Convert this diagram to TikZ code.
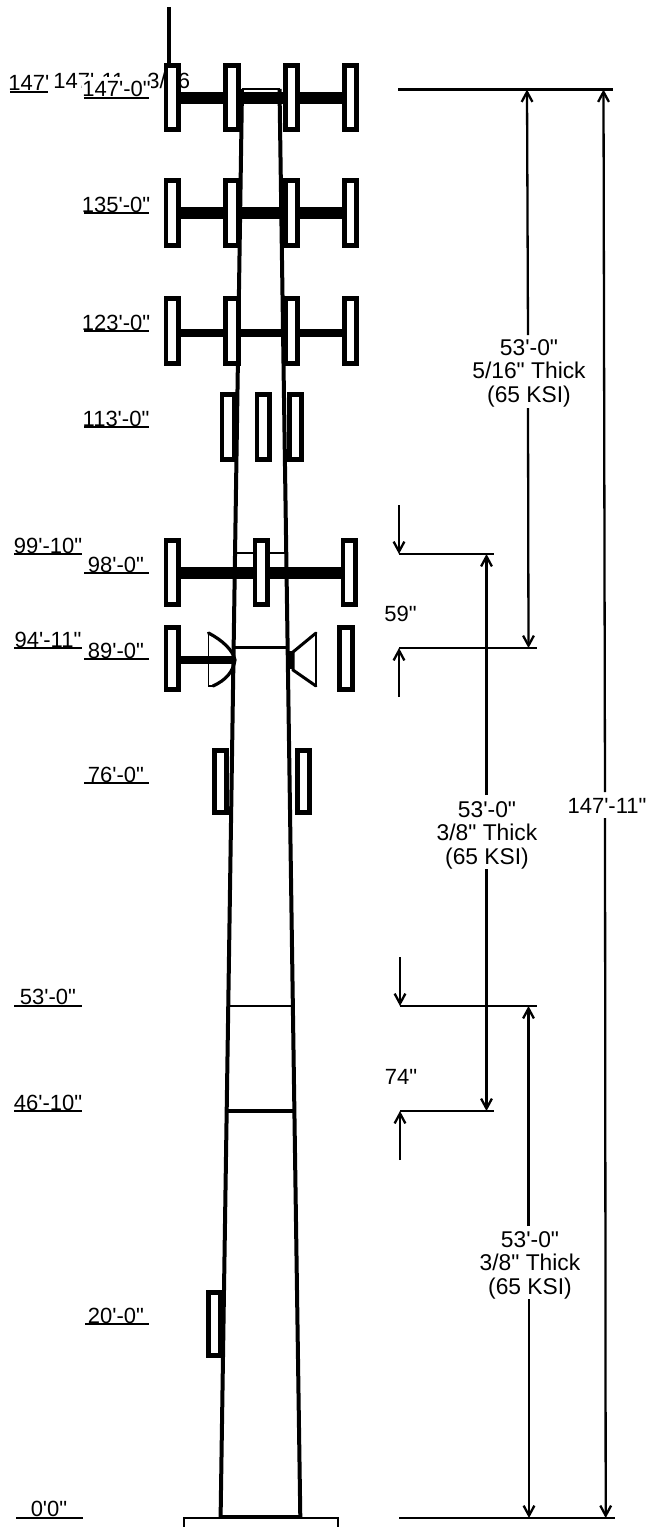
\documentclass[tikz,border=0pt]{standalone}
\usepackage{fontspec}
\newfontfamily\arialfont{Liberation Sans}
\usetikzlibrary{arrows.meta}
\tikzset{
  ant/.style={draw=black,fill=white,line width=2.3pt},
  towerline/.style={line width=2pt,line cap=butt},
  bar/.style={draw=black},
  dimline/.style={line width=1.15pt},
  tipped/.style={dimline,-{Straight Barb[length=5pt,width=5.4pt]}},
  ext/.style={line width=1.3pt},
  lbl/.style={font=\arialfont\fontsize{11}{12}\selectfont,inner sep=0pt,anchor=base},
  blk/.style={font=\arialfont\fontsize{11.4}{11.75}\selectfont,inner sep=0pt,align=center},
  uline/.style={line width=1.1pt}
}
\newcommand{\ant}[4]{\draw[ant] ([shift={(2.3,2.3)}]#1,#2) rectangle ([shift={(-2.3,-2.3)}]#3,#4);}
\newcommand{\lab}[7]{\node[lbl] (#1) at (#2,#3) {#4}; \draw[uline] (#5,#7) -- (#6,#7);}
\begin{document}
\begin{tikzpicture}[x=0.5pt,y=-0.5pt]
\useasboundingbox (0,0) rectangle (646,1527);
% tower
\coordinate (tl) at (242,89); \coordinate (tr) at (279.5,89);
\coordinate (bl) at (220.6,1517); \coordinate (br) at (300.3,1517);
\draw[towerline] (tl) -- (bl);
\draw[towerline] (tr) -- (br);
\draw[line width=0.9pt] (tl) -- (tr);
\draw[line width=0.8pt] (236,553) -- (286,553);
\draw[line width=1.2pt] (234,647.5) -- (288,647.5);
\draw[line width=0.8pt] (228,1006) -- (292,1006);
\draw[line width=1.6pt] (227,1111) -- (294,1111);
\draw[line width=1pt] (183.5,1527) -- (183.5,1518) -- (338,1518) -- (338,1527);
\draw[line width=1.6pt] (bl) -- (br);
% mast
\draw[line width=2pt] (169,7) -- (169,64);
% arms
\draw[line width=6pt] (178,97.5) -- (345,97.5);
\draw[line width=6pt] (178,213) -- (345,213);
\draw[line width=3.8pt] (178,333) -- (345,333);
\draw[line width=6pt] (178,573) -- (343,573);
\draw[line width=4pt] (178,659.5) -- (235,659.5);
% hidden text
\node[lbl,anchor=base west] (h1) at (53,88) {147'-11};
\node[lbl,anchor=base west] (h2) at (147,88) {3/16};
% dishes
\draw[line width=0.8pt] (208.5,633) -- (208.5,686) -- (213,686);
\draw[line width=1.6pt,line cap=round] (213,686)
  .. controls (226,680) and (233,672) .. (235,660)
  .. controls (233,650) and (222,640) .. (208.5,633);
\draw[line width=0.8pt] (316,633) -- (316,686);
\draw[line width=1.5pt,line cap=round] (316,633) -- (293,652) -- (293,670) -- (316,686);
\fill (287.5,651) rectangle (293,669);
% antennas
\ant{163.5}{63}{181}{132}\ant{223}{63}{241}{132}\ant{283}{63}{300}{132}\ant{342}{63}{359}{132}
\ant{163.5}{178}{181}{248}\ant{223}{178}{241}{248}\ant{283}{178}{300}{248}\ant{342}{178}{359}{248}
\ant{163.5}{296}{181}{366}\ant{223}{296}{241}{366}\ant{283}{296}{300}{366}\ant{342}{296}{359}{366}
\ant{219.5}{392}{237}{462}\ant{254.5}{392}{272}{462}\ant{287}{392}{304}{462}
\ant{163.5}{538}{181}{607}\ant{252.5}{538}{270}{607}\ant{340.5}{538}{358}{607}
\ant{163.5}{625}{181}{692}\ant{337}{625}{354.5}{692}
\ant{212}{748}{228.5}{815}\ant{295}{748}{312}{815}
\ant{206}{1290}{222.5}{1358}
% labels
\node[lbl,anchor=base west] (l0) at (8,90) {147'};
\draw[uline] (10,92) -- (48,92);
\node[lbl,fill=white,text height=10pt,text depth=1pt,minimum width=34pt] (l147) at (116.5,96.7) {147'-0"};
\draw[uline] (84,98) -- (149,98);
\lab{l135}{116}{212}{135'-0"}{83.5}{149}{213}
\lab{l123}{116}{330}{123'-0"}{84}{149}{331}
\lab{l113}{116}{426}{113'-0"}{84}{149}{427}
\lab{l99}{48}{553}{99'-10"}{14}{82}{554}
\lab{l98}{116}{572}{98'-0"}{84}{149}{573}
\lab{l94}{48}{647}{94'-11"}{14}{82}{648}
\lab{l89}{116}{658}{89'-0"}{84}{149}{659}
\lab{l76}{116}{782}{76'-0"}{84}{149}{783}
\lab{l53}{48}{1004}{53'-0"}{14}{82}{1006}
\lab{l46}{48}{1110}{46'-10"}{14}{82}{1111}
\lab{l20}{116}{1323}{20'-0"}{85}{149}{1324}
\lab{l00}{49}{1516}{0'0"}{16}{83}{1518}
% dimension horizontals
\coordinate (d1a) at (398,89.5); \coordinate (d1b) at (613,89.5);
\coordinate (d2a) at (399,554); \coordinate (d2b) at (494,554);
\coordinate (d3a) at (399,648); \coordinate (d3b) at (537,648);
\coordinate (d4a) at (400,1006); \coordinate (d4b) at (537,1006);
\coordinate (d5a) at (400,1111); \coordinate (d5b) at (494,1111);
\coordinate (d6a) at (399,1518); \coordinate (d6b) at (615,1518);
\draw[ext] (d1a) -- (d1b);
\draw[ext] (d2a) -- (d2b);
\draw[ext] (d3a) -- (d3b);
\draw[ext] (d4a) -- (d4b);
\draw[ext] (d5a) -- (d5b);
\draw[ext] (d6a) -- (d6b);
% ticks
\coordinate (t1) at (399,505); \coordinate (t2) at (399,697);
\coordinate (t3) at (400,957); \coordinate (t4) at (400,1160);
\draw[tipped] (t1) -- (d2a);
\draw[tipped] (t2) -- (d3a);
\draw[tipped] (t3) -- (d4a);
\draw[tipped] (t4) -- (d5a);
% dimension verticals
\draw[tipped] (528,335) -- (527,89.5);
\draw[tipped] (528,408) -- (528.5,648);
\draw[tipped] (486.5,795) -- (486.5,554);
\draw[tipped] (486.5,869) -- (486.5,1111);
\draw[tipped] (528.5,1226) -- (528.5,1006);
\draw[tipped] (529,1299) -- (529,1518);
\draw[tipped] (605,792) -- (603.5,89.5);
\draw[tipped] (605,818) -- (605.7,1518);
% texts
\node[blk] (b1) at (529,373) {53'-0"\\5/16" Thick\\(65 KSI)};
\node[blk] (b2) at (487,835) {53'-0"\\3/8" Thick\\(65 KSI)};
\node[blk] (b3) at (530,1265) {53'-0"\\3/8" Thick\\(65 KSI)};
\node[lbl] (b4) at (607,813) {147'-11"};
\node[lbl] (n59) at (400.5,621) {59"};
\node[lbl] (n74) at (401,1084) {74"};
\end{tikzpicture}
\end{document}
